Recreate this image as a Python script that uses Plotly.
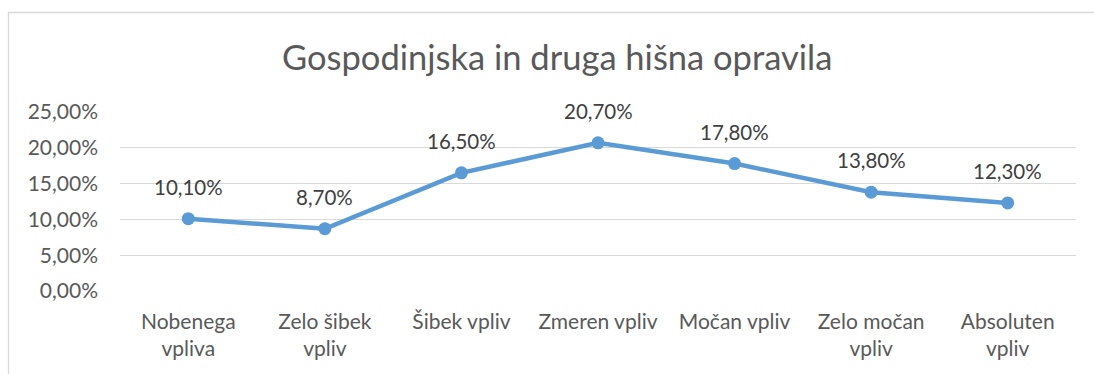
import plotly.graph_objects as go

# Chart data
categories = ["Nobenega<br>vpliva", "Zelo šibek<br>vpliv", "Šibek vpliv", "Zmeren vpliv",
              "Močan vpliv", "Zelo močan<br>vpliv", "Absoluten<br>vpliv"]
values = [0.101, 0.087, 0.165, 0.207, 0.178, 0.138, 0.123]
y_ticks = [0.0, 0.05, 0.10, 0.15, 0.20, 0.25]
y_tick_labels = ["0,00%", "5,00%", "10,00%", "15,00%", "20,00%", "25,00%"]
title_text = "Gospodinjska in druga hišna opravila"

FONT = "Lato"
W, H = 1094, 374
ML, MR, MT, MB = 120, 18, 112, 83
PW, PH = W - ML - MR, H - MT - MB


def px_to_paper_x(px):
    return (px - ML) / PW


def px_to_paper_y(py):
    return (H - MB - py) / PH


def pct(v):
    return f"{v * 100:.2f}%".replace(".", ",")


xs = list(range(len(categories)))

fig = go.Figure()
fig.add_trace(go.Scatter(
    x=xs, y=values, mode="lines+markers",
    line=dict(color="#5B9BD5", width=4.5),
    marker=dict(color="#5B9BD5", size=13),
    hoverinfo="skip", showlegend=False,
))

annotations = [
    dict(x=x, y=v, xref="x", yref="y", text=pct(v), showarrow=False,
         yshift=32, font=dict(family=FONT, size=20.5, color="#404040"))
    for x, v in zip(xs, values)
]
annotations.append(dict(
    x=px_to_paper_x(556.5), y=px_to_paper_y(57), xref="paper", yref="paper",
    text=title_text, showarrow=False, xanchor="center", yanchor="middle",
    font=dict(family=FONT, size=34.5, color="#595959"),
))

# Outer chart frame
shapes = [dict(
    type="rect", xref="paper", yref="paper",
    x0=px_to_paper_x(8.5), x1=px_to_paper_x(W + 20),
    y0=px_to_paper_y(12.5), y1=px_to_paper_y(H + 20),
    line=dict(color="#D9D9D9", width=1.3), fillcolor="rgba(0,0,0,0)", layer="below",
)]

fig.update_layout(
    width=W, height=H,
    margin=dict(l=ML, r=MR, t=MT, b=MB),
    paper_bgcolor="white", plot_bgcolor="white",
    annotations=annotations, shapes=shapes,
    xaxis=dict(
        range=[-0.5, len(categories) - 0.5], tickmode="array",
        tickvals=xs, ticktext=categories, showgrid=False, zeroline=False,
        showline=False, ticks="", ticklabelstandoff=16,
        tickfont=dict(family=FONT, size=21, color="#595959"),
    ),
    yaxis=dict(
        range=[0, 0.25], tickmode="array", tickvals=y_ticks, ticktext=y_tick_labels,
        showgrid=True, gridcolor="#D9D9D9", gridwidth=1.3, zeroline=False,
        showline=False, ticks="", ticklabelstandoff=21,
        tickfont=dict(family=FONT, size=21, color="#595959"),
    ),
)

fig.write_html("out.html")
